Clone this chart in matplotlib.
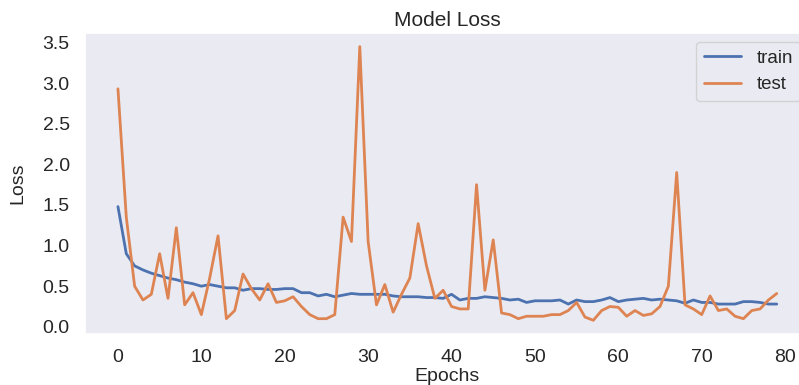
import matplotlib
matplotlib.use("Agg")
import matplotlib.pyplot as plt
from matplotlib.ticker import MultipleLocator
import seaborn as sns

train = [1.48, 0.90, 0.75, 0.70, 0.66, 0.63, 0.60, 0.58, 0.55, 0.53,
         0.50, 0.52, 0.50, 0.48, 0.48, 0.45, 0.47, 0.47, 0.46, 0.46,
         0.47, 0.47, 0.42, 0.42, 0.38, 0.40, 0.37, 0.39, 0.41, 0.40,
         0.40, 0.40, 0.40, 0.38, 0.37, 0.37, 0.37, 0.36, 0.36, 0.35,
         0.40, 0.33, 0.35, 0.35, 0.37, 0.36, 0.35, 0.33, 0.34, 0.30,
         0.32, 0.32, 0.32, 0.33, 0.28, 0.33, 0.31, 0.31, 0.33, 0.36,
         0.31, 0.33, 0.34, 0.35, 0.33, 0.34, 0.33, 0.32, 0.29, 0.33,
         0.30, 0.30, 0.28, 0.28, 0.28, 0.31, 0.31, 0.30, 0.28, 0.28]
test = [2.93, 1.35, 0.50, 0.33, 0.40, 0.90, 0.35, 1.22, 0.27, 0.42,
        0.15, 0.60, 1.12, 0.10, 0.20, 0.65, 0.47, 0.33, 0.53, 0.30,
        0.32, 0.37, 0.25, 0.15, 0.10, 0.10, 0.15, 1.35, 1.05, 3.45,
        1.05, 0.27, 0.52, 0.18, 0.40, 0.60, 1.27, 0.75, 0.35, 0.45,
        0.25, 0.22, 0.22, 1.75, 0.45, 1.07, 0.17, 0.15, 0.10, 0.13,
        0.13, 0.13, 0.15, 0.15, 0.20, 0.30, 0.12, 0.08, 0.20, 0.25,
        0.24, 0.13, 0.20, 0.14, 0.16, 0.25, 0.50, 1.90, 0.27, 0.22,
        0.15, 0.38, 0.20, 0.22, 0.13, 0.10, 0.20, 0.22, 0.33, 0.41]

sns.set_theme(style="dark")
plt.rcParams['font.family'] = ['Liberation Sans', 'DejaVu Sans']

fig = plt.figure(figsize=(7.99, 3.85), dpi=100)
ax = fig.add_axes([0.1064, 0.1325, 0.907, 0.782])
ax.plot(train, label="train", lw=2)
ax.plot(test, label="test", lw=2)
ax.yaxis.set_major_locator(MultipleLocator(0.5))
ax.xaxis.set_major_locator(MultipleLocator(10))
ax.set_title("Model Loss", fontsize=15, pad=5)
ax.set_xlabel("Epochs", fontsize=14, labelpad=1)
ax.set_ylabel("Loss", fontsize=14, labelpad=12)
ax.tick_params(labelsize=14, pad=5)
ax.legend(loc="upper right", fontsize=13.5)
fig.savefig("out.png")
